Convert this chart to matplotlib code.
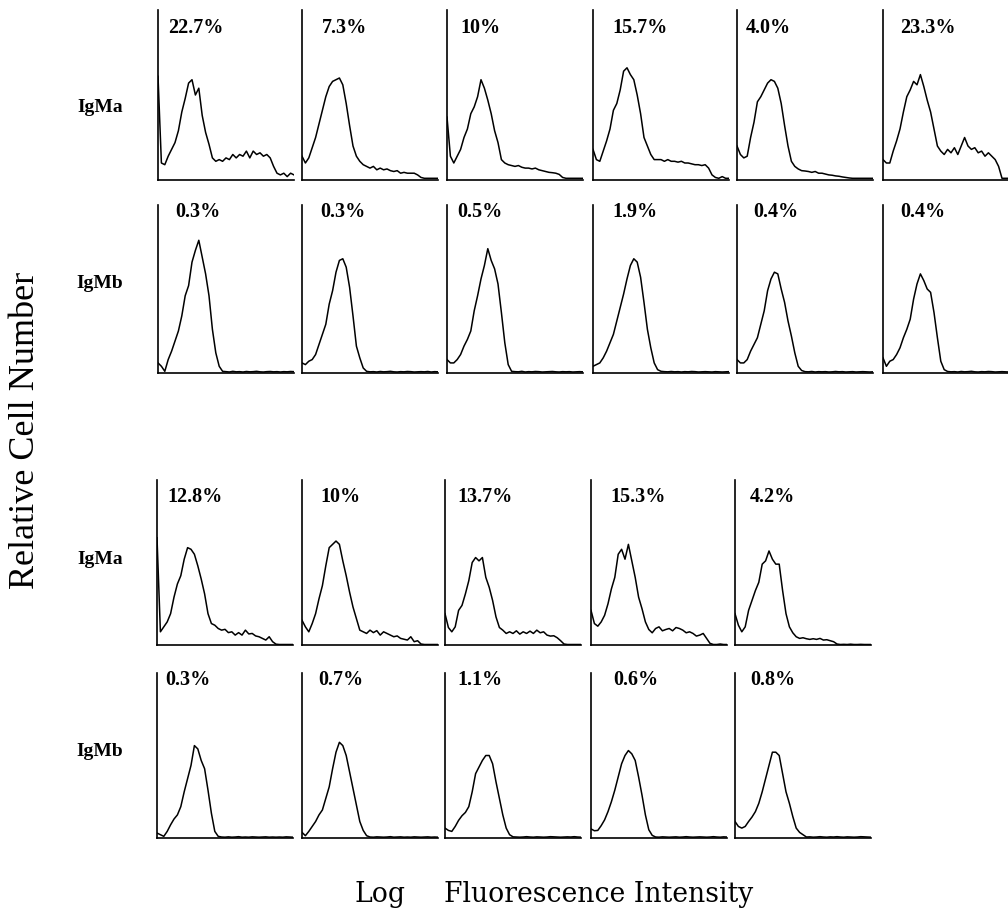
import matplotlib
matplotlib.use("Agg")
import matplotlib.pyplot as plt

# ---------------- data ----------------
CHANNELS = list(range(0, 1001, 25))   # 41 log-fluorescence channels across each panel

row_labels = ["IgMa", "IgMb", "IgMa", "IgMb"]
pct_row1 = ["22.7%", "7.3%", "10%", "15.7%", "4.0%", "23.3%"]
pct_row2 = ["0.3%", "0.3%", "0.5%", "1.9%", "0.4%", "0.4%"]
pct_row3 = ["12.8%", "10%", "13.7%", "15.3%", "4.2%"]
pct_row4 = ["0.3%", "0.7%", "1.1%", "0.6%", "0.8%"]
x_label_left = "Log"
x_label_right = "Fluorescence Intensity"
y_label = "Relative Cell Number"

# relative cell number (% of panel height) per channel
r1c1 = [61, 10, 9, 14, 18, 22, 29, 40, 48, 57, 59, 50, 54, 38, 28, 21, 13, 11, 12, 11, 13,
        12, 15, 13, 15, 14, 17, 13, 17, 15, 16, 14, 15, 13, 8, 4, 3, 4, 2, 4, 3]
r1c2 = [14, 10, 13, 19, 25, 33, 41, 49, 55, 58, 59, 60, 56, 45, 32, 20, 14, 11, 9, 8, 7,
        8, 6, 7, 6, 6.5, 5.5, 5, 5.5, 4, 4.5, 4, 4, 4, 3, 1.5, 1, 1, 1, 1, 1]
r1c3 = [37, 14, 10, 14, 18, 25, 30, 39, 43, 49, 59, 54, 47, 39, 29, 22, 12, 10, 9, 8.5, 8,
        8.5, 7.5, 7, 7, 6.5, 7, 6, 5.5, 5, 4.5, 4.3, 4, 3.3, 1.5, 1, 1, 1, 1, 1, 1]
r1c4 = [18, 12, 11, 17, 23, 30, 41, 45, 53, 64, 66, 62, 59, 50, 39, 25, 20, 15, 12, 12, 12,
        11, 12, 11, 11, 10.5, 11, 10, 10, 9.5, 9, 9, 8.5, 9, 7, 3, 1.5, 1, 2, 1, 1]
r1c5 = [20, 15, 13, 14, 25, 34, 46, 49, 53, 57, 59, 58, 54, 45, 32, 20, 11, 8, 6.5, 5.5, 5.3,
        5, 4.5, 5, 4, 4, 3.5, 3, 2.8, 2.4, 2.2, 1.8, 1.5, 1.2, 1, 1, 1, 1, 1, 1, 1]
r1c6 = [12, 10, 10, 17, 23, 30, 40, 49, 53, 58, 56, 62, 55, 47, 40, 30, 20, 17, 15, 18, 16,
        19, 15, 20, 25, 20, 18, 19, 16, 17, 14, 16, 14, 12, 8, 1, 1, 1, 1, 1, 1]

r2c1 = [6, 4, 1, 8, 13, 19, 25, 34, 46, 52, 66, 73, 79, 69, 59, 46, 26, 12, 4, 1,
        0.8, 0.6, 1.0, 0.7, 0.8, 0.6, 0.9, 0.7, 0.8, 1.0, 0.7, 0.6, 0.8, 0.9, 0.7, 0.8, 0.6, 0.8, 0.7, 0.9, 0.8]
r2c2 = [6, 5, 7, 8, 11, 17, 23, 29, 41, 49, 60, 67, 68, 63, 51, 34, 16, 9, 3, 1,
        0.7, 0.8, 0.6, 0.9, 0.7, 0.8, 1.0, 0.7, 0.6, 0.8, 0.7, 0.9, 0.8, 0.6, 0.7, 0.8, 0.7, 0.9, 0.6, 0.8, 0.7]
r2c3 = [8, 6, 6, 8, 11, 16, 20, 25, 37, 46, 56, 64, 74, 67, 62, 53, 36, 18, 5, 1,
        0.8, 0.7, 1.0, 0.6, 0.8, 0.7, 0.9, 0.8, 0.6, 0.7, 0.8, 0.9, 0.7, 0.6, 0.8, 0.7, 0.8, 0.6, 0.7, 0.8, 0.7]
r2c4 = [4, 5, 6, 9, 13, 18, 23, 31, 39, 47, 56, 64, 68, 66, 57, 42, 26, 15, 6, 2,
        1.0, 0.8, 0.7, 0.9, 0.7, 0.8, 0.6, 0.8, 0.7, 0.9, 0.8, 0.6, 0.7, 0.8, 0.7, 0.6, 0.8, 0.7, 0.6, 0.7, 0.8]
r2c5 = [8, 6, 6, 8, 13, 17, 21, 29, 37, 49, 56, 60, 59, 50, 42, 31, 22, 12, 4, 1.5,
        0.8, 0.7, 0.9, 0.6, 0.8, 0.7, 0.8, 0.6, 0.7, 0.9, 0.7, 0.8, 0.6, 0.7, 0.8, 0.6, 0.7, 0.8, 0.7, 0.6, 0.7]
r2c6 = [9, 4, 7, 8, 11, 15, 21, 26, 32, 44, 53, 59, 55, 50, 48, 36, 21, 7, 2,
        0.9, 0.7, 0.8, 0.6, 0.9, 0.7, 0.8, 1.0, 0.7, 0.6, 0.8, 0.7, 0.9, 0.8, 0.6, 0.7, 0.8, 0.7, 0.6, 0.8, 0.7, 0.8]

r3c1 = [65, 8, 11, 14, 19, 29, 37, 42, 52, 59, 58, 55, 48, 40, 31, 19, 13, 12, 10, 9, 9.5,
        7.5, 8, 6, 7.5, 6, 9, 6.7, 7, 5.5, 5, 4, 3, 5, 2, 0.5, 0.3, 0.3, 0.3, 0.3, 0.3]
r3c2 = [15, 11, 8, 13, 19, 28, 36, 48, 59, 61, 63, 61, 51, 42, 32, 23, 16, 9, 8, 7, 9,
        7.5, 8.7, 6, 8, 7, 6, 5, 5.5, 4, 3.5, 3, 5, 2, 2.6, 0.6, 0.3, 0.3, 0.3, 0.3, 0.3]
r3c3 = [19, 10.6, 8, 11, 21, 24, 31, 39, 50, 53, 51, 53, 41, 35, 27, 17, 10.6, 9, 7, 8, 7,
        8.6, 6.6, 8, 7, 8.4, 7, 9, 7.4, 8, 6, 5.4, 5.6, 4.4, 2.6, 0.6, 0.3, 0.3, 0.3, 0.3, 0.3]
r3c4 = [21, 13, 11.4, 14, 18, 25, 34, 41, 55, 58, 52, 61, 51, 41, 29, 22, 14, 9.4, 7.4, 10, 11,
        8.6, 9.4, 10, 8.6, 10.6, 10, 9, 7.4, 8, 7, 5.4, 6, 7, 4, 1, 0.3, 0.3, 0.6, 0.3, 0.3]
r3c5 = [19, 12, 8, 11, 21, 27, 33, 38, 49, 51, 57, 52, 49, 49, 33, 19, 11, 7.4, 5, 4, 4.4,
        3.8, 3.4, 3.8, 3.4, 4, 3, 3.2, 2.6, 2, 0.6, 0.3, 0.4, 0.3, 0.5, 0.3, 0.3, 0.4, 0.3, 0.3, 0.3]

r4c1 = [3, 2, 1, 4, 8, 11.5, 14, 19, 28, 36, 44, 56, 54, 47, 42, 29, 15, 4, 1,
        0.6, 0.5, 0.7, 0.5, 0.6, 0.8, 0.5, 0.6, 0.5, 0.7, 0.6, 0.5, 0.6, 0.7, 0.5, 0.6, 0.5, 0.6, 0.5, 0.7, 0.6, 0.5]
r4c2 = [3.4, 1.4, 4, 7, 10, 14, 17, 24, 31, 42, 52, 58, 56, 50, 40, 30, 20, 10, 4.6, 1.4,
        0.6, 0.5, 0.7, 0.6, 0.5, 0.6, 0.8, 0.5, 0.6, 0.7, 0.5, 0.6, 0.5, 0.7, 0.6, 0.5, 0.6, 0.7, 0.5, 0.6, 0.5]
r4c3 = [6, 4.6, 4, 7, 10.7, 13.5, 15.5, 19, 28, 39, 43, 47, 50, 50, 45, 34, 24, 14, 6, 2,
        0.7, 0.6, 0.5, 0.6, 0.8, 0.6, 0.5, 0.7, 0.6, 0.5, 0.6, 0.8, 0.7, 0.6, 0.5, 0.6, 0.7, 0.6, 0.8, 0.6, 0.5]
r4c4 = [5.5, 4.4, 4.6, 7.5, 11, 16, 22, 29, 37, 45, 50, 53, 51, 47, 37, 26, 14, 5, 1.6,
        0.6, 0.5, 0.7, 0.6, 0.5, 0.6, 0.7, 0.5, 0.6, 0.8, 0.6, 0.5, 0.6, 0.7, 0.6, 0.5, 0.6, 0.8, 0.6, 0.5, 0.7, 0.6]
r4c5 = [10, 7, 6, 7, 10, 12.7, 16, 21, 28, 36, 44, 52, 52, 50, 39, 28, 21, 13, 6, 3.4, 2,
        0.6, 0.7, 0.5, 0.6, 0.8, 0.6, 0.5, 0.7, 0.6, 0.8, 0.6, 0.5, 0.7, 0.6, 0.5, 0.6, 0.8, 0.7, 0.6, 0.5]

rows_data = [
    [r1c1, r1c2, r1c3, r1c4, r1c5, r1c6],
    [r2c1, r2c2, r2c3, r2c4, r2c5, r2c6],
    [r3c1, r3c2, r3c3, r3c4, r3c5],
    [r4c1, r4c2, r4c3, r4c4, r4c5],
]
rows_pct = [pct_row1, pct_row2, pct_row3, pct_row4]

# ---------------- layout (pixels) ----------------
W, H = 1008, 924
row_top = [10, 205, 480, 673]
row_bot = [180, 373, 645, 838]
col_left = [
    [158, 302, 447, 593, 737, 883],
    [158, 302, 447, 593, 737, 883],
    [157, 302, 445, 591, 735],
    [157, 302, 445, 591, 735],
]
panel_w = 136
pct_dx = [[10, 20, 13, 19, 9, 17], [17, 18, 10, 19, 16, 17],
          [10, 18, 12, 19, 15], [8, 16, 12, 22, 15]]
pct_dy = [18, 7, 17, 7]
label_y = [108, 283, 560, 752]

fig = plt.figure(figsize=(W / 100, H / 100), dpi=100)
fig.patch.set_facecolor("white")

for r, panels in enumerate(rows_data):
    for c, vals in enumerate(panels):
        left = col_left[r][c]
        ax = fig.add_axes([left / W, 1 - row_bot[r] / H, panel_w / W,
                           (row_bot[r] - row_top[r]) / H])
        n = min(len(CHANNELS), len(vals))
        ax.plot(CHANNELS[:n], vals[:n], color="black", lw=1.1)
        ax.set_xlim(0, 1000)
        ax.set_ylim(0, 100)
        for s in ("top", "right"):
            ax.spines[s].set_visible(False)
        for s in ("left", "bottom"):
            ax.spines[s].set_linewidth(1.2)
            ax.spines[s].set_color("black")
        ax.set_xticks([])
        ax.set_yticks([])
        ax.patch.set_alpha(0)
        fig.text((left + pct_dx[r][c]) / W, 1 - (row_top[r] + pct_dy[r]) / H,
                 rows_pct[r][c], ha="left", va="center", fontsize=14.5,
                 fontweight="bold", family="Liberation Serif")
    fig.text(100 / W, 1 - label_y[r] / H, row_labels[r], ha="center", va="center",
             fontsize=14, fontweight="bold", family="Liberation Serif")

fig.text(26 / W, 1 - 430 / H, y_label, rotation=90, ha="center", va="center",
         fontsize=26, family="Liberation Serif")
fig.text(406 / W, 1 - 895 / H, x_label_left, ha="right", va="center",
         fontsize=19.2, family="DejaVu Serif")
fig.text(444 / W, 1 - 895 / H, x_label_right, ha="left", va="center",
         fontsize=19.2, family="DejaVu Serif")

fig.savefig("out.png", dpi=100, facecolor="white")
